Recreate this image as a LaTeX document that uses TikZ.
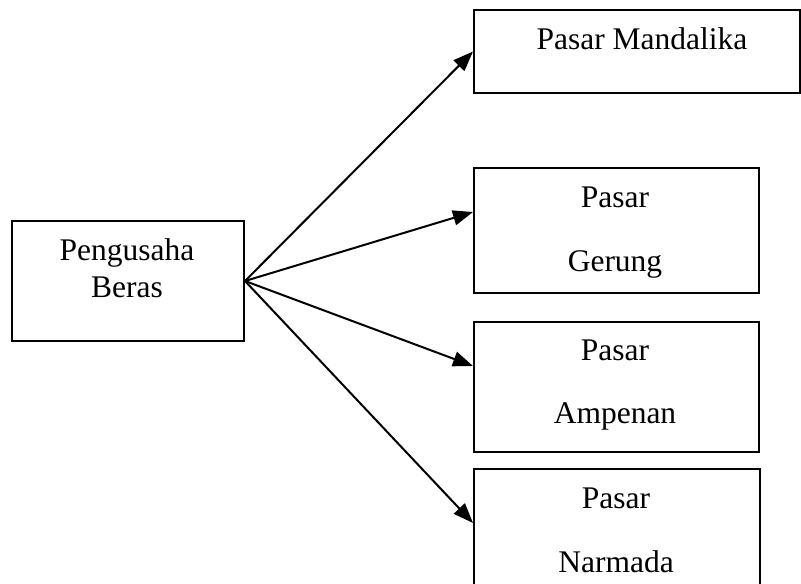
\documentclass[tikz,border=0pt]{standalone}
\usepackage{fontspec}
\setmainfont{Liberation Serif}
\usetikzlibrary{arrows.meta}
\begin{document}
\begin{tikzpicture}[x=1pt,y=-1pt,
 kotak/.style={draw,line width=2pt,inner sep=0pt,anchor=north west},
 tulisan/.style={inner sep=0pt,anchor=north,align=center,font=\fontsize{31.5}{37}\selectfont},
 panah/.style={line width=2pt,-{Triangle[length=20pt,width=15pt]}}]
 \useasboundingbox (0,0) rectangle (801,584);

 \node[kotak,minimum width=232pt,minimum height=120pt] (pengusaha) at (11,220){};
 \node[kotak,minimum width=326pt,minimum height=83pt] (mandalika) at (473,9){};
 \node[kotak,minimum width=285pt,minimum height=125pt] (gerung) at (473,167){};
 \node[kotak,minimum width=285pt,minimum height=130pt] (ampenan) at (473,321){};
 \node[kotak,minimum width=286pt,minimum height=130pt] (narmada) at (473,468){};

 \node[tulisan] (tpengusaha) at (127,238){Pengusaha\\Beras};
 \node[tulisan] (tmandalika) at (642,27){Pasar Mandalika};
 \node[tulisan] (tgerung) at (615,187){Pasar\\[27pt]Gerung};
 \node[tulisan] (tampenan) at (615,340){Pasar\\[26pt]Ampenan};
 \node[tulisan] (tnarmada) at (616,488){Pasar\\[27pt]Narmada};

 \draw[panah] (pengusaha.east) to (mandalika.west);
 \draw[panah] (pengusaha.east) to ([yshift=18.5pt]gerung.west);
 \draw[panah] (pengusaha.east) to ([yshift=21pt]ampenan.west);
 \draw[panah] (pengusaha.east) to ([yshift=11pt]narmada.west);
\end{tikzpicture}
\end{document}
